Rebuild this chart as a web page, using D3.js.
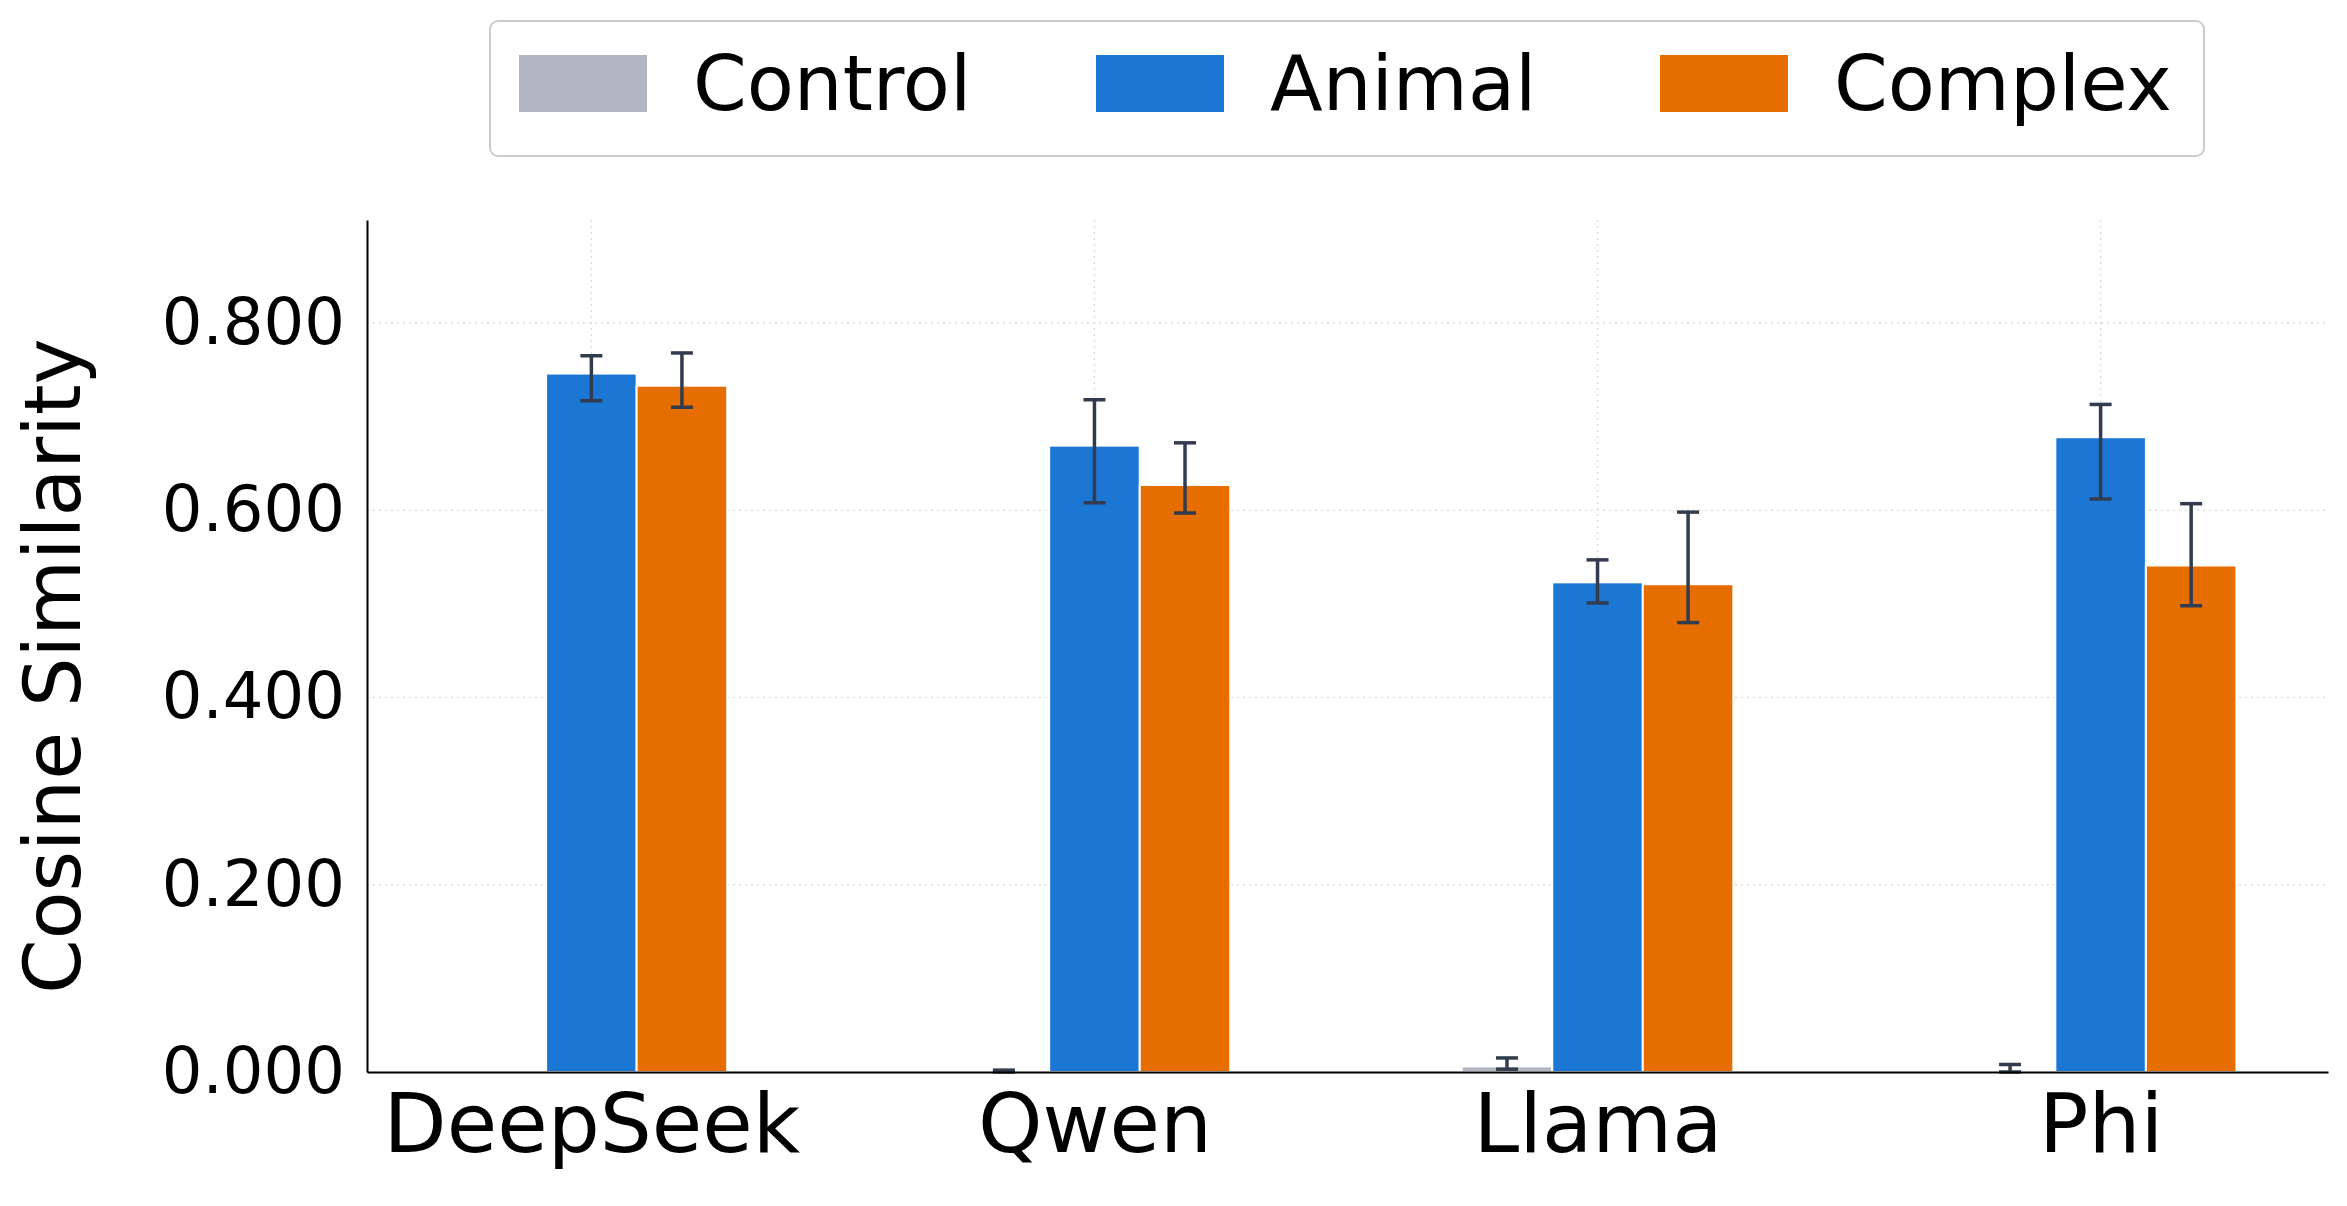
<!DOCTYPE html>
<html><head><meta charset="utf-8">
<script src="https://cdn.jsdelivr.net/npm/d3@7"></script>
<style>body{margin:0;background:#fff}text{font-family:"DejaVu Sans",sans-serif}</style>
</head><body><div id="chart"></div>
<script>
// data
var models = ["DeepSeek", "Qwen", "Llama", "Phi"];
var series = ["Control", "Animal", "Complex"];
var colors = ["#b1b6c2", "#1b77d3", "#e66e00"];
var control = [0.000, 0.001, 0.006, 0.002];
var controlLo = [0.000, 0.000, 0.003, 0.000];
var controlHi = [0.000, 0.002, 0.015, 0.008];
var animal = [0.746, 0.669, 0.523, 0.678];
var animalLo = [0.717, 0.608, 0.501, 0.612];
var animalHi = [0.765, 0.718, 0.547, 0.713];
var complex = [0.733, 0.627, 0.521, 0.541];
var complexLo = [0.710, 0.597, 0.480, 0.498];
var complexHi = [0.768, 0.672, 0.598, 0.607];
var yTicks = [0, 0.2, 0.4, 0.6, 0.8];

var W = 2347, H = 1206;
var mLeft = 367, mRight = 2328, mTop = 220, mBottom = 1072;

var svg = d3.select("#chart").append("svg").attr("width", W).attr("height", H);

var x = d3.scaleLinear().domain([-0.446, 3.452]).range([mLeft, mRight]);
var y = d3.scaleLinear().domain([0, 0.91]).range([mBottom, mTop]);
var bw = 0.18;

// grid
svg.append("g").selectAll("line").data(yTicks.slice(1)).enter().append("line")
  .attr("x1", mLeft).attr("x2", mRight).attr("y1", y).attr("y2", y)
  .attr("stroke", "#ddd").attr("stroke-width", 1.5).attr("stroke-dasharray", "2,4");
svg.append("g").selectAll("line").data(models).enter().append("line")
  .attr("x1", (d, i) => x(i)).attr("x2", (d, i) => x(i)).attr("y1", mTop).attr("y2", mBottom)
  .attr("stroke", "#ddd").attr("stroke-width", 1.5).attr("stroke-dasharray", "2,4");

var vals = [control, animal, complex], los = [controlLo, animalLo, complexLo], his = [controlHi, animalHi, complexHi];
series.forEach(function(s, k) {
  var g = svg.append("g");
  var data = models.map((m, i) => ({i: i, v: vals[k][i], lo: los[k][i], hi: his[k][i]}));
  g.selectAll("rect").data(data).enter().append("rect")
    .attr("x", d => x(d.i + (k - 1) * bw - bw / 2))
    .attr("width", x(bw) - x(0))
    .attr("y", d => y(d.v)).attr("height", d => y(0) - y(d.v))
    .attr("fill", colors[k]).attr("stroke", "#fff").attr("stroke-width", 2);
  var e = g.selectAll("g.err").data(data.filter(d => d.hi > 0)).enter().append("g")
    .attr("stroke", "#323c4e").attr("stroke-width", 3.5);
  var cx = d => x(d.i + (k - 1) * bw);
  e.append("line").attr("x1", cx).attr("x2", cx).attr("y1", d => y(d.lo)).attr("y2", d => y(d.hi));
  e.append("line").attr("x1", d => cx(d) - 11).attr("x2", d => cx(d) + 11).attr("y1", d => y(d.lo)).attr("y2", d => y(d.lo));
  e.append("line").attr("x1", d => cx(d) - 11).attr("x2", d => cx(d) + 11).attr("y1", d => y(d.hi)).attr("y2", d => y(d.hi));
});

// axes
var ya = svg.append("g").attr("transform", "translate(" + mLeft + ",0)")
  .call(d3.axisLeft(y).tickValues(yTicks).tickFormat(d3.format(".3f")).tickSize(0).tickPadding(22));
ya.select(".domain").attr("stroke", "#000").attr("stroke-width", 2);
ya.selectAll("text").attr("font-size", 64).attr("fill", "#000").attr("font-family", "DejaVu Sans");
var xa = svg.append("g").attr("transform", "translate(0," + mBottom + ")")
  .call(d3.axisBottom(x).tickValues([0, 1, 2, 3]).tickFormat(i => models[i]).tickSize(0).tickPadding(22));
xa.select(".domain").attr("stroke", "#000").attr("stroke-width", 2);
xa.selectAll("text").attr("font-size", 82).attr("fill", "#000").attr("font-family", "DejaVu Sans");

svg.append("text").attr("transform", "translate(80," + ((mTop + mBottom) / 2 + 20) + ") rotate(-90)")
  .attr("text-anchor", "middle").attr("font-size", 78).text("Cosine Similarity");

// legend
var lg = svg.append("g");
lg.append("rect").attr("x", 490).attr("y", 21).attr("width", 1714).attr("height", 135).attr("rx", 8)
  .attr("fill", "#fff").attr("stroke", "#ccc").attr("stroke-width", 2);
var lx = [519, 1096, 1660];
series.forEach(function(s, k) {
  lg.append("rect").attr("x", lx[k]).attr("y", 55).attr("width", 128).attr("height", 57).attr("fill", colors[k]);
  lg.append("text").attr("x", lx[k] + 174).attr("y", 110).attr("font-size", 77).text(s);
});
</script></body></html>
